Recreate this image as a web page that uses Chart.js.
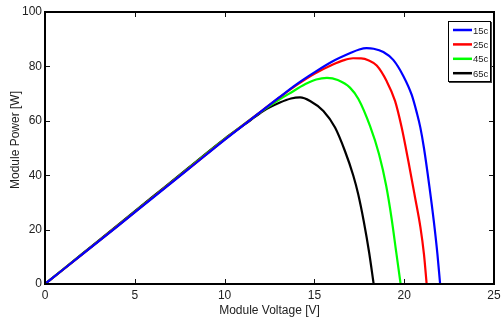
<!DOCTYPE html>
<html lang="en">
<head>
  <meta charset="UTF-8">
  <title>Module Power vs Voltage</title>
  <script src="https://cdn.jsdelivr.net/npm/chart.js"></script>
  <style>
    body { margin: 0; background: #fff; }
    #wrap { width: 501px; height: 320px; }
  </style>
</head>
<body>
  <div id="wrap"><canvas id="pv"></canvas></div>

  <script>
    // temperatures and P-V curves, [voltage, power]
    const labels = ['15c', '25c', '45c', '65c'];
    const colors = ['#0000ff', '#ff0000', '#00ff00', '#000000'];

    const curve15 = [[0,0],[2,10.5],[4,21],[6,31.7],[8,42.3],[10,53],[12,63.3],[13,68.4],[14,73.4],[15,77.8],[16,81.8],[17,84.9],[17.5,86.2],[17.9,86.7],[18.3,86.5],[18.84,85.3],[19.39,82.4],[19.95,76.5],[20.42,69.5],[20.7,63],[20.9,57.5],[21.1,50],[21.4,36],[21.65,23],[21.85,11],[22,0]];
    const curve25 = [[0,0],[2,10.5],[4,21.1],[6,31.8],[8,42.4],[10,53.1],[12,63.3],[13,68.3],[14,73.1],[15,77.3],[16,80.6],[16.6,82.2],[17.15,83],[17.6,82.95],[18,82.3],[18.47,80.3],[19.02,74.6],[19.49,67.3],[19.86,57.5],[20.23,45.2],[20.6,32],[20.9,21],[21.1,11],[21.25,0]];
    const curve45 = [[0,0],[2,10.6],[4,21.2],[6,31.9],[8,42.6],[10,53.3],[12,63.2],[13,67.6],[13.6,70],[14.5,73.5],[15.1,75.2],[15.7,75.8],[16.3,75],[16.98,72.2],[17.45,68],[18.1,58],[18.6,47.7],[19,36],[19.3,24],[19.55,12],[19.8,0]];
    const curve65 = [[0,0],[2,10.7],[4,21.4],[6,32.1],[8,42.8],[10,53.4],[11.4,60],[12.15,63.6],[13.08,66.7],[13.7,68.2],[14.2,68.6],[14.76,67.3],[15.5,63.6],[16.15,57.5],[16.7,48.9],[17.16,40],[17.44,33],[17.75,23],[18.05,11.5],[18.3,0]];
    const curves = [curve15, curve25, curve45, curve65];

    const xTicks = [0, 5, 10, 15, 20, 25];
    const yTicks = [0, 20, 40, 60, 80, 100];
    const xTitle = 'Module Voltage [V]';
    const yTitle = 'Module Power [W]';

    const FONT = 'Liberation Sans, Arial, sans-serif';

    // box round the plot, inward ticks on all four sides, legend in the corner
    const frame = {
      id: 'frame',
      afterDraw(chart) {
        const { ctx, chartArea: a, scales: { x, y } } = chart;
        ctx.save();
        ctx.strokeStyle = '#111';
        ctx.lineWidth = 1;
        xTicks.forEach(v => {
          const px = Math.round(x.getPixelForValue(v)) + 0.5;
          ctx.beginPath();
          ctx.moveTo(px, a.bottom); ctx.lineTo(px, a.bottom - 5);
          ctx.moveTo(px, a.top); ctx.lineTo(px, a.top + 5);
          ctx.stroke();
        });
        yTicks.forEach(v => {
          const py = Math.round(y.getPixelForValue(v)) + 0.5;
          ctx.beginPath();
          ctx.moveTo(a.left, py); ctx.lineTo(a.left + 5, py);
          ctx.moveTo(a.right, py); ctx.lineTo(a.right - 5, py);
          ctx.stroke();
        });
        ctx.lineWidth = 2;
        ctx.strokeStyle = '#000';
        ctx.strokeRect(a.left, a.top, a.right - a.left, a.bottom - a.top);

        // axis titles
        ctx.fillStyle = '#222';
        ctx.font = '12px ' + FONT;
        ctx.textAlign = 'center';
        ctx.textBaseline = 'middle';
        ctx.fillText(xTitle, (a.left + a.right) / 2, 311);
        ctx.save();
        ctx.translate(16, 140);
        ctx.rotate(-Math.PI / 2);
        ctx.fillText(yTitle, 0, 0);
        ctx.restore();

        // legend
        const lx = a.right - 46, ly = a.top + 9, lw = 42, lh = 60;
        ctx.fillStyle = '#fff';
        ctx.fillRect(lx, ly, lw, lh);
        ctx.fillStyle = '#444';
        ctx.fillRect(lx + lw, ly + 1, 2, lh + 1);
        ctx.fillRect(lx + 1, ly + lh, lw + 1, 2);
        ctx.lineWidth = 1;
        ctx.strokeStyle = '#000';
        ctx.strokeRect(lx + 0.5, ly + 0.5, lw, lh);
        ctx.font = '9.5px ' + FONT;
        ctx.textAlign = 'left';
        chart.data.datasets.forEach((ds, i) => {
          const ry = ly + 9 + i * 14.4;
          ctx.strokeStyle = ds.borderColor;
          ctx.lineWidth = 2.5;
          ctx.beginPath();
          ctx.moveTo(lx + 5, ry); ctx.lineTo(lx + 24, ry);
          ctx.stroke();
          ctx.fillStyle = '#222';
          ctx.fillText(ds.label, lx + 25, ry + 1);
        });
        ctx.restore();
      }
    };

    new Chart(document.getElementById('pv'), {
      type: 'scatter',
      data: {
        datasets: curves.map((c, i) => ({
          label: labels[i],
          data: c.map(p => ({ x: p[0], y: p[1] })),
          showLine: true,
          borderColor: colors[i],
          borderWidth: 2.2,
          pointRadius: 0,
          cubicInterpolationMode: 'monotone',
          fill: false
        }))
      },
      options: {
        responsive: true,
        maintainAspectRatio: false,
        animation: false,
        layout: { padding: { top: 12, right: 7, left: 0, bottom: 0 } },
        plugins: { legend: { display: false }, tooltip: { enabled: false } },
        scales: {
          x: {
            type: 'linear', min: 0, max: 25,
            afterBuildTicks: s => { s.ticks = xTicks.map(v => ({ value: v })); },
            afterFit: s => { s.height = 36; s.paddingRight = 0; s.paddingLeft = 0; },
            grid: { display: false, drawTicks: false },
            border: { display: false },
            ticks: { color: '#222', padding: 4, font: { family: FONT, size: 12 } }
          },
          y: {
            min: 0, max: 100,
            afterBuildTicks: s => { s.ticks = yTicks.map(v => ({ value: v })); },
            afterFit: s => { s.width = 45; },
            grid: { display: false, drawTicks: false },
            border: { display: false },
            ticks: { color: '#222', padding: 3, font: { family: FONT, size: 12 } }
          }
        }
      },
      plugins: [frame]
    });
  </script>
</body>
</html>
